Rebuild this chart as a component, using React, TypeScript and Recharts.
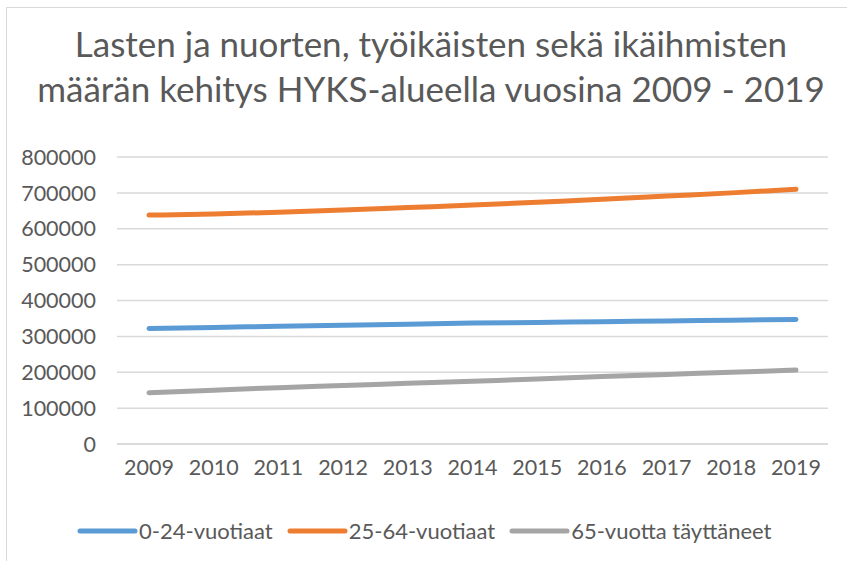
import React from 'react';
import { LineChart, Line, XAxis, YAxis, CartesianGrid, Legend } from 'recharts';

const years = ['2009', '2010', '2011', '2012', '2013', '2014', '2015', '2016', '2017', '2018', '2019'];
const youth = [322000, 325000, 328000, 331000, 334000, 337000, 339000, 341000, 343000, 345000, 347000];
const workingAge = [638000, 641000, 646000, 652000, 659000, 666000, 674000, 682000, 691000, 700000, 710000];
const elderly = [143000, 150000, 157000, 163000, 169000, 175000, 181000, 188000, 194000, 200000, 206000];
const yTicks = [0, 100000, 200000, 300000, 400000, 500000, 600000, 700000, 800000];

const seriesNames = ['0-24-vuotiaat', '25-64-vuotiaat', '65-vuotta täyttäneet'];
const seriesColors = ['#5B9BD5', '#ED7D31', '#A5A5A5'];

const data = years.map((year, i) => ({
  year,
  youth: youth[i],
  workingAge: workingAge[i],
  elderly: elderly[i]
}));

const FONT = 'Lato, "Open Sans", sans-serif';
const TEXT = '#595959';

function LegendContent({ payload }: any) {
  return (
    <div style={{ display: 'flex', alignItems: 'center', paddingLeft: 77, marginTop: 7 }}>
      {(payload || []).map((item: any) => (
        <div key={item.value} style={{ display: 'flex', alignItems: 'center', marginRight: 14 }}>
          <svg width={62} height={8}>
            <line x1={3} y1={4} x2={58} y2={4} stroke={item.color} strokeWidth={5} strokeLinecap="round" />
          </svg>
          <span style={{ fontFamily: FONT, fontSize: 22, color: TEXT }}>{item.value}</span>
        </div>
      ))}
    </div>
  );
}

export default function App() {
  return (
    <div style={{ position: 'absolute', left: 0, top: 0, width: 847, height: 561, background: '#fff' }}>
      <div
        style={{
          position: 'absolute',
          left: 6,
          top: 7,
          right: 0,
          bottom: 0,
          borderLeft: '1.5px solid #D9D9D9',
          borderTop: '1.5px solid #D9D9D9'
        }}
      />
      <div
        style={{
          position: 'absolute',
          left: 0,
          top: 21,
          width: 862,
          textAlign: 'center',
          fontFamily: FONT,
          fontSize: 35,
          lineHeight: '45px',
          color: TEXT
        }}
      >
        <div>Lasten ja nuorten, työikäisten sekä ikäihmisten</div>
        <div>määrän kehitys HYKS-alueella vuosina 2009 - 2019</div>
      </div>
      <LineChart
        width={847}
        height={561}
        data={data}
        margin={{ top: 157, right: 19, bottom: 11, left: 0 }}
      >
        <CartesianGrid vertical={false} stroke="#D9D9D9" strokeWidth={1.5} />
        <XAxis
          dataKey="year"
          axisLine={{ stroke: '#D9D9D9', strokeWidth: 1.5 }}
          tickLine={false}
          padding={{ left: 32, right: 32 }}
          height={66}
          tickMargin={10}
          tick={{ fill: TEXT, fontSize: 21.5, fontFamily: FONT }}
        />
        <YAxis
          width={117}
          domain={[0, 800000]}
          ticks={yTicks}
          axisLine={false}
          tickLine={false}
          tickMargin={15}
          tick={{ fill: TEXT, fontSize: 21.5, fontFamily: FONT }}
        />
        <Legend verticalAlign="bottom" height={40} content={<LegendContent />} />
        <Line
          type="monotone"
          dataKey="youth"
          name={seriesNames[0]}
          stroke={seriesColors[0]}
          strokeWidth={5}
          strokeLinecap="round"
          dot={false}
          isAnimationActive={false}
        />
        <Line
          type="monotone"
          dataKey="workingAge"
          name={seriesNames[1]}
          stroke={seriesColors[1]}
          strokeWidth={5}
          strokeLinecap="round"
          dot={false}
          isAnimationActive={false}
        />
        <Line
          type="monotone"
          dataKey="elderly"
          name={seriesNames[2]}
          stroke={seriesColors[2]}
          strokeWidth={5}
          strokeLinecap="round"
          dot={false}
          isAnimationActive={false}
        />
      </LineChart>
    </div>
  );
}
